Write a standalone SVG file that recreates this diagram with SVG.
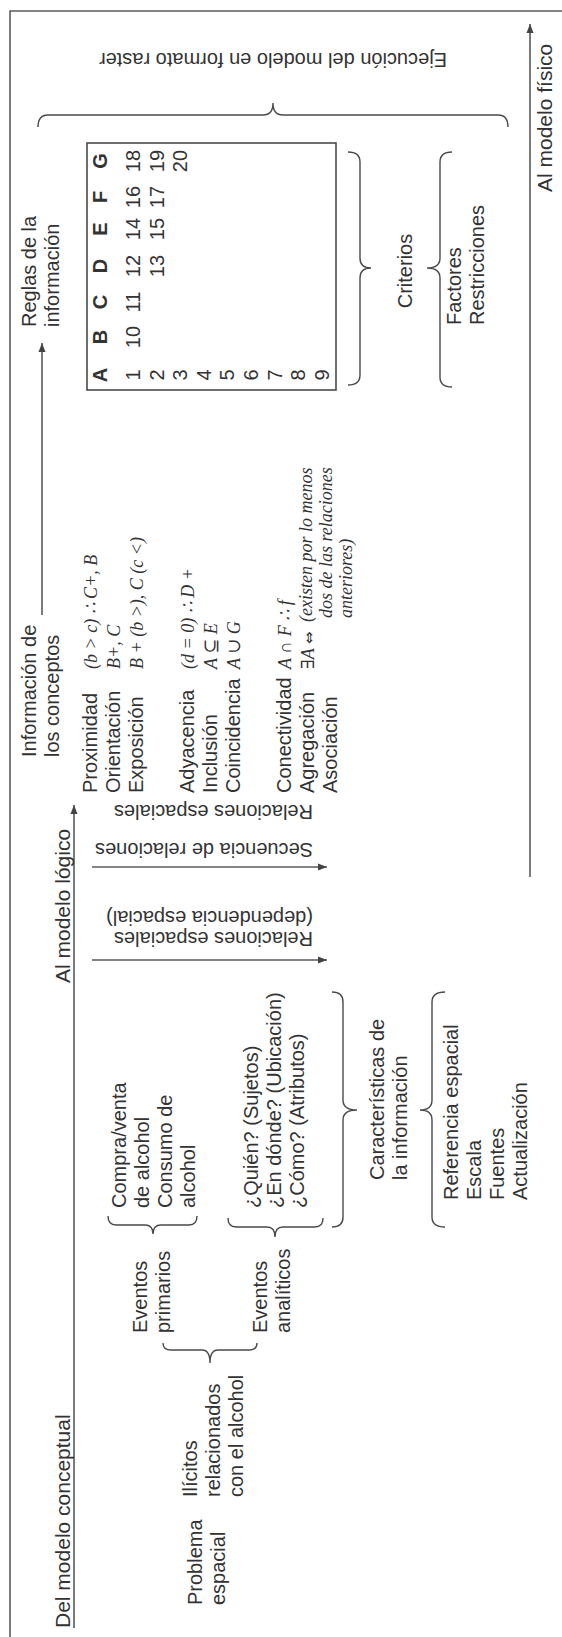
<svg xmlns="http://www.w3.org/2000/svg" width="562" height="1637" viewBox="0 0 562 1637">
<defs>
<style>
.t{font-family:"Liberation Sans",Arial,sans-serif;font-size:20px;fill:#333}
.h{font-size:21px}
.b{font-weight:bold}
.c{text-anchor:middle}
.f{font-family:"Liberation Serif","DejaVu Serif",serif;font-style:italic;font-size:18px;fill:#333}
.s{font-family:"DejaVu Sans",sans-serif;font-style:normal;font-size:15px}
.ln{fill:none;stroke:#5a5a5a;stroke-width:1.6}
.br{fill:none;stroke:#4a4a4a;stroke-width:1.4}
.bx{fill:none;stroke:#4a4a4a;stroke-width:1.6}
</style>
<marker id="ah" markerUnits="userSpaceOnUse" markerWidth="10" markerHeight="8" refX="9" refY="4" orient="auto"><path d="M0,0.5 L9,4 L0,7.5 z" fill="#444"/></marker>
</defs>
<rect width="562" height="1637" fill="#fff"/>
<path id="marco" class="ln" d="M562,11 H10 V1637"/>
<g transform="matrix(0 -1 1 0 0 1637)">
<g id="conectores">
<path class="ln" d="M9,74 H832" marker-end="url(#ah)"/>
<path class="ln" d="M1022,42 H1294" marker-end="url(#ah)"/>
<path class="ln" d="M760,530 H1613" marker-end="url(#ah)"/>
<path class="ln" d="M677,92 V327" marker-end="url(#ah)"/>
<path class="ln" d="M770,92 V327" marker-end="url(#ah)"/>
<path class="br" d="M294,163 Q287,163 287,171 L287,202 Q287,210 274,210 Q287,210 287,218 L287,249 Q287,257 294,257"/>
<path class="br" d="M421,108 Q412,108 412,116 L412,145 Q412,153 403,153 Q412,153 412,161 L412,189 Q412,197 421,197"/>
<path class="br" d="M419,228 Q410,228 410,236 L410,267 Q410,275 400,275 Q410,275 410,283 L410,315 Q410,323 419,323"/>
<path class="br" d="M410,332 Q410,343 420,343 L517,343 Q527,343 527,357 Q527,343 537,343 L635,343 Q645,343 645,332"/>
<path class="br" d="M410,445 Q410,432 420,432 L517,432 Q527,432 527,420 Q527,432 537,432 L635,432 Q645,432 645,445"/>
<path class="br" d="M1252,348 Q1252,360 1262,360 L1359,360 Q1369,360 1369,371 Q1369,360 1379,360 L1475,360 Q1485,360 1485,348"/>
<path class="br" d="M1250,452 Q1250,440 1260,440 L1359,440 Q1369,440 1369,427 Q1369,440 1379,440 L1475,440 Q1485,440 1485,452"/>
<path class="br" d="M1510,38 Q1522,38 1522,48 L1522,263 Q1522,273 1534,273 Q1522,273 1522,283 L1522,498 Q1522,508 1510,508"/>
</g>
<g id="modelo-conceptual"><text class="t h" x="9" y="70">Del modelo conceptual</text></g>
<g id="modelo-logico"><text class="t h" x="654" y="70">Al modelo lógico</text></g>
<g id="modelo-fisico"><text class="t h" x="1445" y="552">Al modelo físico</text></g>
<g id="problema"><text class="t" x="32" y="202">Problema<tspan x="32" dy="23">espacial</tspan></text></g>
<g id="ilicitos"><text class="t" x="140" y="197">Ilícitos<tspan x="140" dy="23">relacionados</tspan><tspan x="140" dy="23">con el alcohol</tspan></text></g>
<g id="eventos-primarios"><text class="t" x="304" y="147">Eventos<tspan x="304" dy="23">primarios</tspan></text></g>
<g id="eventos-analiticos"><text class="t" x="304" y="267">Eventos<tspan x="304" dy="23">analíticos</tspan></text></g>
<g id="compra"><text class="t" x="429" y="126">Compra/venta<tspan x="429" dy="23">de alcohol</tspan><tspan x="429" dy="23">Consumo de</tspan><tspan x="429" dy="23">alcohol</tspan></text></g>
<g id="preguntas"><text class="t" x="429" y="258">¿Quién? (Sujetos)<tspan x="429" dy="23">¿En dónde? (Ubicación)</tspan><tspan x="429" dy="23">¿Cómo? (Atributos)</tspan></text></g>
<g id="caracteristicas"><text class="t" x="457" y="384">Características de<tspan x="457" dy="23">la información</tspan></text></g>
<g id="referencia"><text class="t" x="437" y="458">Referencia espacial<tspan x="437" dy="23">Escala</tspan><tspan x="437" dy="23">Fuentes</tspan><tspan x="437" dy="23">Actualización</tspan></text></g>
<g id="rel-dependencia"><text class="t" transform="translate(705,313) rotate(-90)">Relaciones espaciales<tspan x="0" dy="21">(dependencia espacial)</tspan></text></g>
<g id="secuencia"><text class="t" transform="translate(794,313) rotate(-90)">Secuencia de relaciones</text></g>
<g id="rel-espaciales"><text class="t" transform="translate(832,313) rotate(-90)">Relaciones espaciales</text></g>
<g id="informacion"><text class="t" x="880" y="36">Información de<tspan x="880" dy="23">los conceptos</tspan></text></g>
<g id="relaciones">
<text class="t" x="844" y="97">Proximidad<tspan x="844" dy="23">Orientación</tspan><tspan x="844" dy="23">Exposición</tspan></text>
<text class="t" x="844" y="194">Adyacencia<tspan x="844" dy="23">Inclusión</tspan><tspan x="844" dy="23">Coincidencia</tspan></text>
<text class="t" x="844" y="291">Conectividad<tspan x="844" dy="23">Agregación</tspan><tspan x="844" dy="23">Asociación</tspan></text>
<text class="f" x="968" y="97">(b &gt; c) ∴ C+, B</text>
<text class="f" x="968" y="120">B+, C</text>
<text class="f" x="968" y="143">B + (b &gt;), C (c &lt;)</text>
<text class="f" x="968" y="194">(d = 0) ∴ D +</text>
<text class="f" x="968" y="217">A ⊆ E</text>
<text class="f" x="968" y="240">A ∪ G</text>
<text class="f" x="968" y="291">A ∩ F ∴ f</text>
<text class="f" x="968" y="314">∃A <tspan class="s">⇔</tspan></text>
<text class="f" x="1015" y="312">(existen por lo menos<tspan x="1019" dy="20">dos de las relaciones</tspan><tspan x="1019" dy="20">anteriores)</tspan></text>
</g>
<g id="reglas"><text class="t" x="1310" y="36">Reglas de la<tspan x="1310" dy="23">información</tspan></text></g>
<g id="tabla">
<rect class="bx" x="1247" y="87" width="247" height="249"/>
<text class="t b c" y="107"><tspan x="1262">A</tspan><tspan x="1300">B</tspan><tspan x="1335">C</tspan><tspan x="1371">D</tspan><tspan x="1408">E</tspan><tspan x="1440">F</tspan><tspan x="1476">G</tspan></text>
<text class="t c" x="1262" y="140">1</text>
<text class="t c" x="1262" y="163.6">2</text>
<text class="t c" x="1262" y="187.2">3</text>
<text class="t c" x="1262" y="210.8">4</text>
<text class="t c" x="1262" y="234.4">5</text>
<text class="t c" x="1262" y="258">6</text>
<text class="t c" x="1262" y="281.6">7</text>
<text class="t c" x="1262" y="305.2">8</text>
<text class="t c" x="1262" y="328.8">9</text>
<text class="t c" x="1300" y="140">10</text>
<text class="t c" x="1335" y="140">11</text>
<text class="t c" x="1371" y="140">12</text>
<text class="t c" x="1371" y="163.6">13</text>
<text class="t c" x="1408" y="140">14</text>
<text class="t c" x="1408" y="163.6">15</text>
<text class="t c" x="1440" y="140">16</text>
<text class="t c" x="1440" y="163.6">17</text>
<text class="t c" x="1476" y="140">18</text>
<text class="t c" x="1476" y="163.6">19</text>
<text class="t c" x="1476" y="187.2">20</text>
</g>
<g id="criterios"><text class="t c" x="1366" y="412">Criterios</text></g>
<g id="factores"><text class="t" x="1312" y="461">Factores<tspan x="1312" dy="23">Restricciones</tspan></text></g>
<g id="ejecucion"><text class="t c" transform="translate(1584,273) rotate(-90)">Ejecución del modelo en formato raster</text></g>
</g>
</svg>
